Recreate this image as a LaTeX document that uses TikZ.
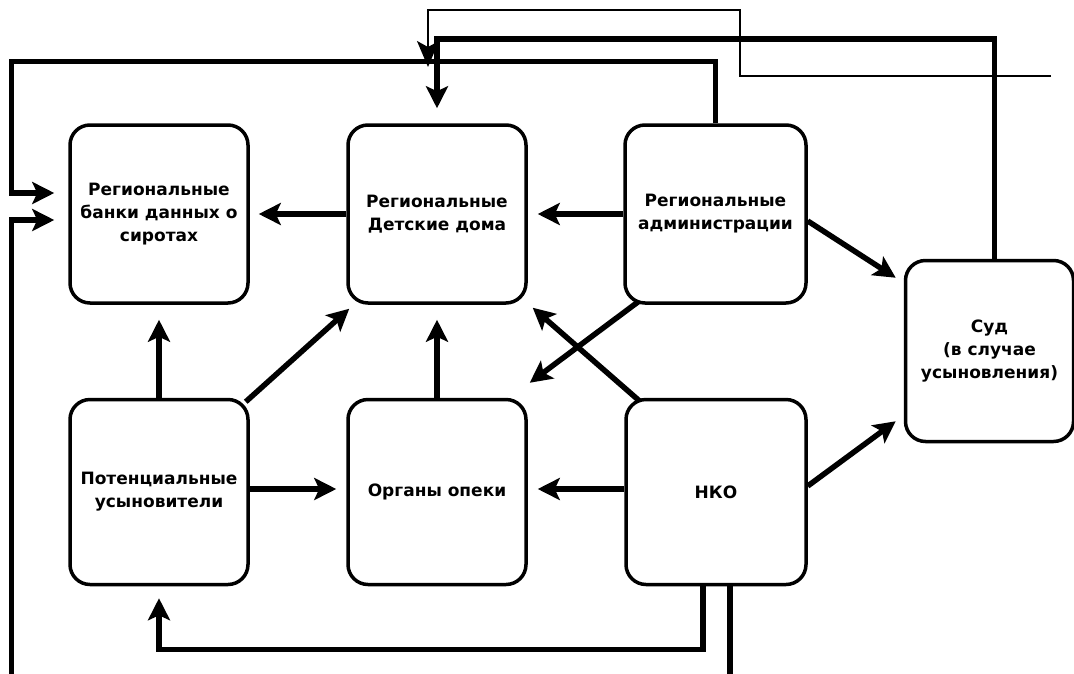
\documentclass[tikz,border=0pt]{standalone}
\usepackage{fontspec}
\setmainfont{DejaVu Sans}
\usetikzlibrary{calc}
\usetikzlibrary{arrows.meta}

\tikzset{
  box/.style={draw, line width=3.5pt, rounded corners=20pt, minimum width=178pt, minimum height=178pt,
    align=center, inner sep=2pt, font=\fontsize{17}{23}\selectfont\bfseries},
  link/.style={line width=5.5pt, -{Stealth[length=22pt, width=22pt, inset=5pt]}},
  thinlink/.style={line width=1.5pt, -{Stealth[length=26pt, width=22pt, inset=6pt]}}
}

\begin{document}
\begin{tikzpicture}[x=1pt, y=-1pt]
\useasboundingbox (0,0) rectangle (1074,673);
\clip (0,0) rectangle (1074,673);
% boxes
\node[box] (banks) at (159,214) {Региональные\\банки данных о\\сиротах};
\node[box] (homes) at (437,214) {Региональные\\Детские дома};
\node[box, minimum width=181pt] (admin) at (715.5,214) {Региональные\\администрации};
\node[box, minimum height=185pt] (adopt) at (159,492) {Потенциальные\\усыновители};
\node[box, minimum height=185pt] (guard) at (437,492) {Органы опеки};
\node[box, minimum height=185pt, minimum width=180pt] (nko) at (716,492) {НКО};
\node[box, minimum width=168pt, minimum height=181pt] (court) at (989.5,351) {Суд\\(в случае\\усыновления)};
% straight links
\draw[link, shorten >=9pt] (homes.west) -- (banks.east);
\draw[link, shorten >=10pt] (admin.west) -- (homes.east);
\draw[link] ($(admin.east)+(0,7)$) -- ($(court.north west)+(-8,19)$);
\draw[link] ($(nko.east)+(0,-6)$) -- ($(court.south west)+(-8,-22)$);
\draw[link] ($(admin.south west)+(15,-3)$) -- ($(guard.north east)+(2,-15)$);
\draw[link] ($(nko.north west)+(15,3)$) -- ($(homes.south east)+(5,3)$);
\draw[link] ($(adopt.north east)+(-4,4)$) -- ($(homes.south west)+(3,4)$);
\draw[link, shorten >=15pt] (guard.north) -- (homes.south);
\draw[link, shorten >=15pt] (adopt.north) -- (banks.south);
\draw[link, shorten >=10pt] ($(adopt.east)+(0,-3)$) -- ($(guard.west)+(0,-3)$);
\draw[link, shorten >=10pt] ($(nko.west)+(0,-3)$) -- ($(guard.east)+(0,-3)$);
% routed links
\draw[link, shorten >=12pt] ($(nko.south)+(-13,0)$) -- ++(0,63) -| (adopt.south);
\draw[link, shorten >=14pt] ($(nko.south)+(14,0)$) -- ++(0,120) -| ($(banks.west)+(-57,6)$) -- ($(banks.west)+(0,6)$);
\draw[link, shorten >=14pt] (admin.north) -- ++(0,-62) -| ($(banks.west)+(-57,-21)$) -- ($(banks.west)+(0,-21)$);
\draw[link, shorten >=15pt] ($(court.north)+(5,0)$) -- ++(0,-220) -| (homes.north);
% thin line
\coordinate (thinstart) at (1051,76);
\coordinate (thinend) at (428,67);
\draw[thinlink] (thinstart) -- (740,76) -- (740,10) -| (thinend);
\end{tikzpicture}
\end{document}
